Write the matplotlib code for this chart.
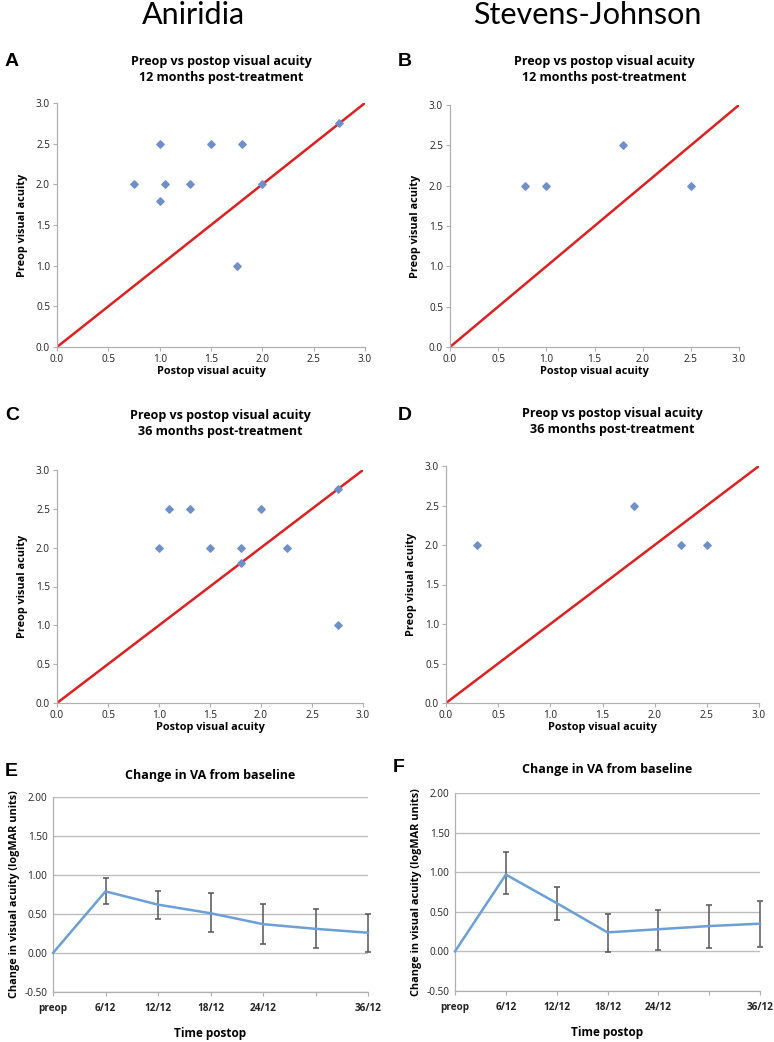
import numpy as np
import matplotlib.pyplot as plt

plt.rcParams['font.family'] = ['Open Sans', 'DejaVu Sans']

# Scatter data: postop (x) vs preop (y) visual acuity
a_post = [0.75, 1.0, 1.05, 1.0, 1.3, 1.5, 1.8, 1.75, 2.0, 2.75]
a_pre = [2.0, 2.5, 2.0, 1.8, 2.0, 2.5, 2.5, 1.0, 2.0, 2.75]

b_post = [0.78, 1.0, 1.8, 2.5]
b_pre = [2.0, 2.0, 2.5, 2.0]

c_post = [1.0, 1.1, 1.3, 1.5, 1.8, 1.8, 2.0, 2.25, 2.75, 2.75]
c_pre = [2.0, 2.5, 2.5, 2.0, 2.0, 1.8, 2.5, 2.0, 2.75, 1.0]

d_post = [0.3, 1.8, 2.25, 2.5]
d_pre = [2.0, 2.5, 2.0, 2.0]

# Change in VA from baseline
timepoints = ['preop', '6/12', '12/12', '18/12', '24/12', '', '36/12']
e_mean = [0.0, 0.79, 0.62, 0.51, 0.37, 0.31, 0.26]
e_low = [0.0, 0.63, 0.43, 0.27, 0.11, 0.06, 0.01]
e_high = [0.0, 0.96, 0.80, 0.77, 0.63, 0.56, 0.50]

f_mean = [0.0, 0.97, 0.61, 0.24, 0.28, 0.32, 0.35]
f_low = [0.0, 0.72, 0.40, -0.01, 0.02, 0.04, 0.06]
f_high = [0.0, 1.26, 0.81, 0.47, 0.52, 0.58, 0.64]

W, H = 774, 1042
fig = plt.figure(figsize=(W / 100, H / 100), dpi=100)

def box(left, top, right, bottom):
    return [left / W, 1 - bottom / H, (right - left) / W, (bottom - top) / H]

axis_grey = '#b0b0b0'
point_blue = '#6f8fc8'
line_blue = '#6a9fd8'

def scatter_panel(rect, xs, ys, letter, months, letter_xy, title_y):
    ax = fig.add_axes(box(*rect))
    ax.plot([0, 3], [0, 3], color='#e02020', lw=1.8, zorder=2)
    ax.scatter(xs, ys, marker='D', s=14, color=point_blue, zorder=3)
    ax.set_xlim(0, 3)
    ax.set_ylim(0, 3)
    ax.set_xticks(np.arange(0, 3.01, 0.5))
    ax.set_yticks(np.arange(0, 3.01, 0.5))
    ax.xaxis.set_major_formatter(plt.FormatStrFormatter('%.1f'))
    ax.yaxis.set_major_formatter(plt.FormatStrFormatter('%.1f'))
    for s in ['top', 'right']:
        ax.spines[s].set_visible(False)
    for s in ['left', 'bottom']:
        ax.spines[s].set_color(axis_grey)
        ax.spines[s].set_linewidth(0.9)
    ax.tick_params(colors=axis_grey, labelcolor='#222222', labelsize=7.2,
                   length=3, direction='out', pad=2)
    ax.set_xlabel('Postop visual acuity', fontsize=7.8, fontweight='bold', labelpad=1)
    ax.set_ylabel('Preop visual acuity', fontsize=7.8, fontweight='bold', labelpad=6)
    cx = (rect[0] + rect[2]) / 2 + 10
    fig.text(cx / W, 1 - title_y / H, 'Preop vs postop visual acuity\n%s post-treatment' % months,
             ha='center', va='center', fontsize=9, fontweight='bold', linespacing=1.3)
    fig.text(letter_xy[0] / W, 1 - letter_xy[1] / H, letter, ha='left', va='center',
             fontsize=14, fontweight='bold', family='Liberation Sans')
    return ax

def change_panel(rect, mean, low, high, letter, letter_xy, title_y):
    ax = fig.add_axes(box(*rect))
    x = np.arange(len(timepoints))
    mean = np.array(mean)
    yerr = [mean - np.array(low), np.array(high) - mean]
    ax.errorbar(x[1:], mean[1:], yerr=[yerr[0][1:], yerr[1][1:]], fmt='none',
                ecolor='#555555', elinewidth=1.1, capsize=2, capthick=1.1, zorder=2,
                clip_on=False)
    ax.plot(x, mean, color=line_blue, lw=1.8, zorder=3, clip_on=False)
    ax.set_xlim(0, len(timepoints) - 1)
    ax.set_ylim(-0.5, 2.0)
    ax.set_yticks(np.arange(-0.5, 2.01, 0.5))
    ax.yaxis.set_major_formatter(plt.FormatStrFormatter('%.2f'))
    ax.set_xticks(x)
    ax.set_xticklabels(timepoints, fontweight='bold')
    ax.grid(axis='y', color='#bdbdbd', lw=1.0)
    ax.set_axisbelow(True)
    for s in ['top', 'right']:
        ax.spines[s].set_visible(False)
    for s in ['left', 'bottom']:
        ax.spines[s].set_color(axis_grey)
        ax.spines[s].set_linewidth(0.9)
    ax.tick_params(axis='y', length=0, labelsize=7.2, labelcolor='#222222', pad=4)
    ax.tick_params(axis='x', colors=axis_grey, labelcolor='#222222', labelsize=7.2,
                   length=3, direction='out', pad=5)
    ax.set_xlabel('Time postop', fontsize=8.5, fontweight='bold', labelpad=9)
    ax.set_ylabel('Change in visual acuity (logMAR units)', fontsize=7.8,
                  fontweight='bold', labelpad=3)
    cx = (rect[0] + rect[2]) / 2
    fig.text(cx / W, 1 - title_y / H, 'Change in VA from baseline', ha='center',
             va='center', fontsize=9, fontweight='bold')
    fig.text(letter_xy[0] / W, 1 - letter_xy[1] / H, letter, ha='left', va='center',
             fontsize=14, fontweight='bold', family='Liberation Sans')
    return ax

fig.text(193 / W, 1 - 15 / H, 'Aniridia', ha='center', va='center', fontsize=22,
         family=['Lato', 'DejaVu Sans'])
fig.text(587 / W, 1 - 15 / H, 'Stevens-Johnson', ha='center', va='center', fontsize=22,
         family=['Lato', 'DejaVu Sans'])

scatter_panel((57, 103, 365, 347), a_post, a_pre, 'A', '12 months', (5, 62), 69)
scatter_panel((450, 105, 739, 347), b_post, b_pre, 'B', '12 months', (398, 62), 69)
scatter_panel((57, 470, 363, 703), c_post, c_pre, 'C', '36 months', (5, 415), 423)
scatter_panel((446, 466, 759, 703), d_post, d_pre, 'D', '36 months', (398, 415), 422)

change_panel((53, 797, 368, 992), e_mean, e_low, e_high, 'E', (5, 772), 775)
change_panel((455, 793, 760, 991), f_mean, f_low, f_high, 'F', (393, 768), 769)

fig.savefig('out.png', dpi=100)
